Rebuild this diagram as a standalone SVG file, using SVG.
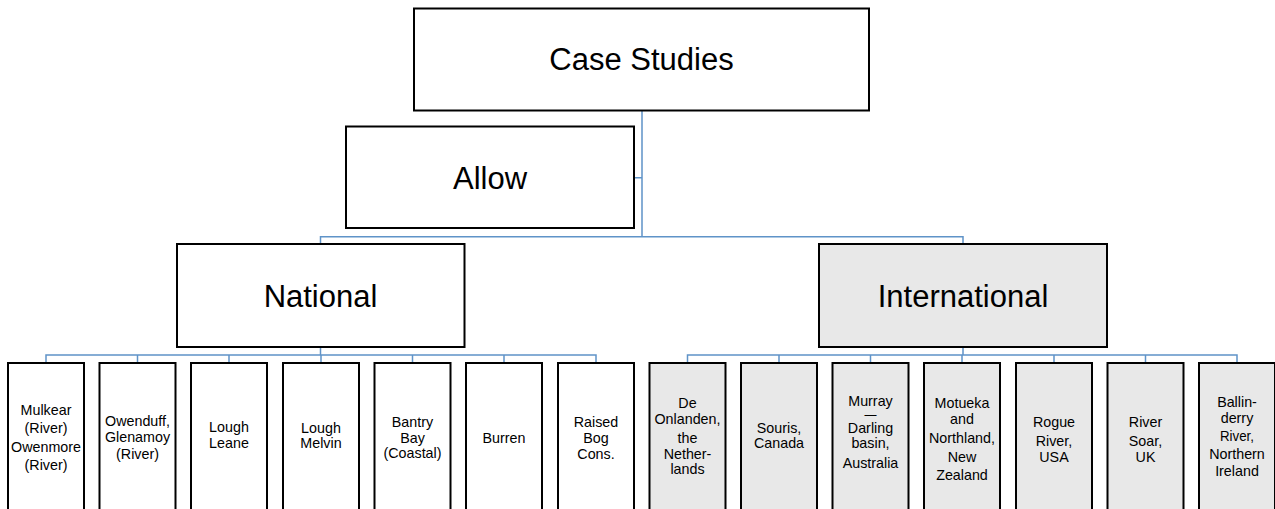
<svg xmlns="http://www.w3.org/2000/svg" width="1275" height="509" viewBox="0 0 1275 509">
<style>
.n{fill:#fff;stroke:#000;stroke-width:2}
.g{fill:#e8e8e8;stroke:#000;stroke-width:2}
.c{fill:none;stroke:#5f93c8;stroke-width:1.5}
.big{font-family:"Liberation Sans",Arial,sans-serif;font-size:31px;text-anchor:middle;fill:#000}
.sm{font-family:"Liberation Sans",Arial,sans-serif;font-size:14.3px;text-anchor:middle;fill:#000}
</style>
<rect width="1275" height="509" fill="#fff"/>
<g id="connectors">
<path class="c" d="M642,110V236.7M634,177.7H642M320.5,244V236.7H963V244"/>
<path class="c" d="M320.5,347V355M46,363V355H596V363M137.5,355V363M229,355V363M321,355V363M412.5,355V363M504,355V363"/>
<path class="c" d="M963,347V355M687.5,363V355H1237V363M779,355V363M870.5,355V363M962,355V363M1054,355V363M1145.5,355V363"/>
</g>
<g id="case-studies"><rect class="n" x="414" y="8.5" width="455" height="102"/><text class="big" x="641.5" y="70">Case Studies</text></g>
<g id="allow"><rect class="n" x="346" y="126.5" width="288" height="101.5"/><text class="big" x="490" y="188.5">Allow</text></g>
<g id="national"><rect class="n" x="177" y="244" width="287.5" height="103"/><text class="big" x="320.5" y="306.5">National</text></g>
<g id="international"><rect class="g" x="819" y="244" width="288" height="103"/><text class="big" x="963" y="306.5">International</text></g>

<g id="mulkear"><rect class="n" x="8" y="363" width="76" height="160"/><text class="sm" x="46"><tspan x="46" y="415">Mulkear</tspan><tspan x="46" y="433.3">(River)</tspan><tspan x="46" y="451.6">Owenmore</tspan><tspan x="46" y="470">(River)</tspan></text></g>
<g id="owenduff"><rect class="n" x="99.5" y="363" width="76" height="160"/><text class="sm"><tspan x="137.5" y="426">Owenduff,</tspan><tspan x="137.5" y="442.3">Glenamoy</tspan><tspan x="137.5" y="458.7">(River)</tspan></text></g>
<g id="lough-leane"><rect class="n" x="191" y="363" width="76" height="160"/><text class="sm"><tspan x="229" y="432.3">Lough</tspan><tspan x="229" y="447.5">Leane</tspan></text></g>
<g id="lough-melvin"><rect class="n" x="283" y="363" width="76" height="160"/><text class="sm"><tspan x="321" y="433">Lough</tspan><tspan x="321" y="448">Melvin</tspan></text></g>
<g id="bantry"><rect class="n" x="374.5" y="363" width="76" height="160"/><text class="sm"><tspan x="412.5" y="427">Bantry</tspan><tspan x="412.5" y="442.5">Bay</tspan><tspan x="412.5" y="458">(Coastal)</tspan></text></g>
<g id="burren"><rect class="n" x="466" y="363" width="76" height="160"/><text class="sm" x="504" y="443.3">Burren</text></g>
<g id="raised-bog"><rect class="n" x="558" y="363" width="76" height="160"/><text class="sm"><tspan x="596" y="426.7">Raised</tspan><tspan x="596" y="443">Bog</tspan><tspan x="596" y="458.5">Cons.</tspan></text></g>

<g id="de-onlanden"><rect class="g" x="649.5" y="363" width="76" height="160"/><text class="sm"><tspan x="687.5" y="407.7">De</tspan><tspan x="687.5" y="424.3">Onlanden,</tspan><tspan x="687.5" y="443.3">the</tspan><tspan x="687.5" y="458.7">Nether-</tspan><tspan x="687.5" y="473.5">lands</tspan></text></g>
<g id="souris"><rect class="g" x="741" y="363" width="76" height="160"/><text class="sm"><tspan x="779" y="432.7">Souris,</tspan><tspan x="779" y="447.5">Canada</tspan></text></g>
<g id="murray"><rect class="g" x="832.5" y="363" width="76" height="160"/><text class="sm"><tspan x="870.5" y="406.2">Murray</tspan><tspan x="870.5" y="419" font-size="12">—</tspan><tspan x="870.5" y="432.7">Darling</tspan><tspan x="870.5" y="447.7">basin,</tspan><tspan x="870.5" y="468.3">Australia</tspan></text></g>
<g id="motueka"><rect class="g" x="924" y="363" width="76" height="160"/><text class="sm"><tspan x="962" y="407.7">Motueka</tspan><tspan x="962" y="424.3">and</tspan><tspan x="962" y="443.3">Northland,</tspan><tspan x="962" y="462.3">New</tspan><tspan x="962" y="480">Zealand</tspan></text></g>
<g id="rogue"><rect class="g" x="1016" y="363" width="76" height="160"/><text class="sm"><tspan x="1054" y="427.3">Rogue</tspan><tspan x="1054" y="446">River,</tspan><tspan x="1054" y="462.3">USA</tspan></text></g>
<g id="soar"><rect class="g" x="1107.5" y="363" width="76" height="160"/><text class="sm"><tspan x="1145.5" y="427.3">River</tspan><tspan x="1145.5" y="446">Soar,</tspan><tspan x="1145.5" y="462.3">UK</tspan></text></g>
<g id="ballinderry"><rect class="g" x="1199" y="363" width="76" height="160"/><text class="sm"><tspan x="1237" y="406.7">Ballin-</tspan><tspan x="1237" y="423.3">derry</tspan><tspan x="1237" y="441" textLength="34" lengthAdjust="spacingAndGlyphs">River,</tspan><tspan x="1237" y="459">Northern</tspan><tspan x="1237" y="475.7">Ireland</tspan></text></g>
</svg>
